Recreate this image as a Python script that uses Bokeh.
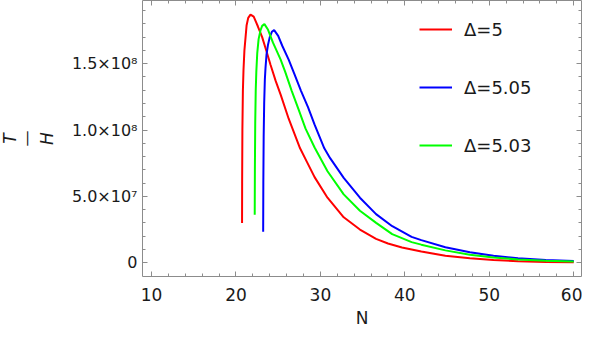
from bokeh.plotting import figure
from bokeh.models import (Range1d, FixedTicker, LinearAxis, Legend, LegendItem,
                          Title, CustomJSTickFormatter)
from bokeh.embed import file_html
from bokeh.resources import INLINE

# ---- data ----
n_d5 = [20.72, 20.73, 20.76, 20.82, 20.89, 21.0, 21.26, 21.45, 21.72, 22.1, 22.6, 23.1,
        23.56, 24.1, 24.7, 25.3, 26.24, 27.59, 28.4, 29.31, 30.84, 32.76, 34.68, 36.59,
        38.0, 39.66, 41.95, 44.8, 47.7, 50.5, 53.4, 56.7, 60.0]
v_d5 = [3.0e7, 6.0e7, 1.0e8, 1.3e8, 1.45e8, 1.6e8, 1.79e8, 1.845e8, 1.87e8, 1.855e8,
        1.78e8, 1.70e8, 1.605e8, 1.49e8, 1.37e8, 1.265e8, 1.085e8, 8.62e7, 7.6e7, 6.45e7,
        4.9e7, 3.42e7, 2.5e7, 1.8e7, 1.45e7, 1.15e7, 8.4e6, 5.2e6, 3.3e6, 2.0e6, 1.1e6,
        0.6e6, 0.3e6]

n_d505 = [23.22, 23.24, 23.28, 23.34, 23.42, 23.5, 23.62, 23.8, 24.0, 24.25, 24.52,
          25.0, 25.48, 26.24, 26.9, 27.7, 28.54, 29.31, 30.46, 31.15, 32.76, 34.68, 36.59,
          38.51, 40.8, 41.95, 44.8, 47.7, 50.5, 53.4, 56.7, 60.0]
v_d505 = [2.33e7, 6.0e7, 9.5e7, 1.2e8, 1.38e8, 1.47e8, 1.57e8, 1.645e8, 1.70e8,
          1.74e8, 1.753e8, 1.71e8, 1.635e8, 1.53e8, 1.425e8, 1.295e8, 1.17e8, 1.04e8,
          8.62e7, 7.88e7, 6.39e7, 4.9e7, 3.66e7, 2.75e7, 1.95e7, 1.7e7, 1.17e7, 7.8e6,
          5.2e6, 3.4e6, 2.1e6, 1.3e6]

n_d503 = [22.22, 22.24, 22.28, 22.34, 22.41, 22.52, 22.68, 22.9, 23.1, 23.37, 23.8,
          24.37, 25.29, 25.82, 26.6, 27.39, 28.24, 29.31, 30.84, 32.76, 34.68, 36.6, 38.5,
          40.8, 41.95, 44.8, 47.7, 50.5, 53.4, 56.7, 60.0]
v_d503 = [3.62e7, 7.0e7, 1.05e8, 1.3e8, 1.44e8, 1.58e8, 1.685e8, 1.75e8, 1.785e8,
          1.798e8, 1.755e8, 1.66e8, 1.53e8, 1.44e8, 1.295e8, 1.159e8, 1.01e8, 8.68e7,
          6.89e7, 5.15e7, 3.92e7, 3.0e7, 2.15e7, 1.55e7, 1.36e7, 9.3e6, 6.0e6, 3.9e6,
          2.5e6, 1.5e6, 9e5]

series_names = ["Δ=5", "Δ=5.05", "Δ=5.03"]
series_colors = ["#ff0000", "#0000ff", "#00ff00"]

x_ticks = [10, 20, 30, 40, 50, 60]
x_minor = [12, 14, 16, 18, 22, 24, 26, 28, 32, 34, 36, 38, 42, 44, 46, 48, 52, 54, 56, 58]
y_ticks = [0, 5e7, 1e8, 1.5e8]
y_tick_labels = ["0", "5.0×10⁷", "1.0×10⁸", "1.5×10⁸"]
y_minor = [1e7, 2e7, 3e7, 4e7, 6e7, 7e7, 8e7, 9e7, 1.1e8, 1.2e8, 1.3e8, 1.4e8,
           1.6e8, 1.7e8, 1.8e8, 1.9e8]

FONT = "DejaVu Sans"
GRAY = "#8c8c8c"
TXT = "#1a1a1a"

p = figure(width=582, height=330, output_backend="svg", toolbar_location=None,
           x_range=Range1d(8.93, 60.92), y_range=Range1d(-1.04e7, 1.976e8),
           min_border_left=142, min_border_right=1, min_border_top=0,
           min_border_bottom=54)
p.grid.visible = False
p.outline_line_color = GRAY
p.outline_line_width = 1
p.background_fill_color = "white"

renderers = []
for xs, ys, c in [(n_d5, v_d5, series_colors[0]), (n_d505, v_d505, series_colors[1]),
                  (n_d503, v_d503, series_colors[2])]:
    r = p.line(xs, ys, line_color=c, line_width=2)
    renderers.append(r)

xt = FixedTicker(ticks=x_ticks, minor_ticks=x_minor)
yt = FixedTicker(ticks=y_ticks, minor_ticks=y_minor)

def style_axis(ax, labels=True, size="16px"):
    ax.axis_line_color = None
    ax.major_tick_in = 5
    ax.major_tick_out = 0
    ax.minor_tick_in = 3
    ax.minor_tick_out = 0
    ax.major_tick_line_color = GRAY
    ax.minor_tick_line_color = GRAY
    if labels:
        ax.major_label_text_font = FONT
        ax.major_label_text_font_size = size
        ax.major_label_text_color = TXT
    else:
        ax.formatter = CustomJSTickFormatter(code="return ''")
        ax.major_label_text_font_size = "0px"
        ax.major_label_standoff = 0

xa = p.xaxis[0]
xa.ticker = xt
style_axis(xa, size="17px")
xa.major_label_standoff = 11
xa.axis_label = "N"
xa.axis_label_text_font = FONT
xa.axis_label_text_font_style = "normal"
xa.axis_label_text_font_size = "17px"
xa.axis_label_text_color = TXT
xa.axis_label_standoff = 4

ya = p.yaxis[0]
ya.ticker = yt
style_axis(ya, size="16px")
ya.major_label_standoff = 5
ya.major_label_overrides = {t: l for t, l in zip(y_ticks, y_tick_labels)}
ya.axis_label = "H"
ya.axis_label_text_font = FONT
ya.axis_label_text_font_style = "italic"
ya.axis_label_text_font_size = "17px"
ya.axis_label_text_color = TXT
ya.axis_label_standoff = 12

top = LinearAxis(ticker=xt)
style_axis(top, labels=False)
p.add_layout(top, "above")
right = LinearAxis(ticker=yt)
style_axis(right, labels=False)
p.add_layout(right, "right")

# fraction bar and numerator of the y-axis label T/H
p.add_layout(Title(text="—", align="center", text_font=FONT, text_font_size="16px",
                   text_font_style="normal", text_color=TXT, standoff=-5), "left")
p.add_layout(Title(text="T", align="center", text_font=FONT, text_font_size="17px",
                   text_font_style="italic", text_color=TXT, standoff=-5), "left")

legend = Legend(items=[LegendItem(label=n, renderers=[r]) for n, r in zip(series_names, renderers)],
                location=(277, 120), orientation="vertical")
legend.border_line_color = None
legend.background_fill_alpha = 0
legend.glyph_width = 33
legend.glyph_height = 22
legend.label_height = 22
legend.label_standoff = 12
legend.spacing = 36
legend.padding = 10
legend.label_text_font = FONT
legend.label_text_font_size = "18px"
legend.label_text_color = TXT
p.add_layout(legend)

open("out.html", "w").write(file_html(p, INLINE))
